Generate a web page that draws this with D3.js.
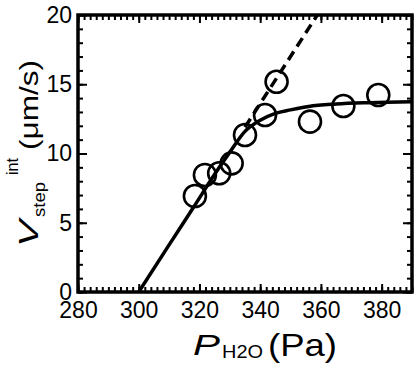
<!DOCTYPE html>
<html><head><meta charset="utf-8">
<script src="https://cdn.jsdelivr.net/npm/d3@7"></script>
<style>body{margin:0;background:#fff} svg{display:block}</style>
</head><body><svg id="c" width="420" height="366"></svg>
<script>
const xTicks=[280,300,320,340,360,380];
const yTicks=[0,5,10,15,20];
const pressure=[318.5,321.8,326.5,330.6,335.0,341.6,345.4,356.4,367.4,378.9];
const velocity=[6.93,8.45,8.57,9.29,11.34,12.78,15.18,12.3,13.43,14.22];
const fitP=[300,310,318,325,330,335,340,345,350,356,365,376,390];
const fitV=[0,3.4,6.1,8.5,10.1,11.6,12.4,12.9,13.15,13.4,13.57,13.67,13.74];
const linP=[335,358.8];
const linV=[11.9,20];

const FONT='"Liberation Sans", Arial, Helvetica, sans-serif';
const svg=d3.select('#c');
const L=78,R=412,T=15,B=292;
const x=d3.scaleLinear().domain([280,390]).range([L,R]);
const y=d3.scaleLinear().domain([0,20]).range([B,T]);

svg.append('defs').append('clipPath').attr('id','clip')
  .append('rect').attr('x',L).attr('y',T).attr('width',R-L).attr('height',B-T);

const xMinor=d3.range(280,391,2), yMinor=d3.range(0,21,1);
function styleAxis(g){g.select('.domain').remove();g.selectAll('.tick line').attr('stroke','#000').attr('stroke-width',2);}
// minor ticks
svg.append('g').attr('transform',`translate(0,${B})`).call(d3.axisBottom(x).tickValues(xMinor).tickSize(-5).tickFormat('')).call(styleAxis);
svg.append('g').attr('transform',`translate(0,${T})`).call(d3.axisTop(x).tickValues(xMinor).tickSize(-5).tickFormat('')).call(styleAxis);
svg.append('g').attr('transform',`translate(${L},0)`).call(d3.axisLeft(y).tickValues(yMinor).tickSize(-5).tickFormat('')).call(styleAxis);
svg.append('g').attr('transform',`translate(${R},0)`).call(d3.axisRight(y).tickValues(yMinor).tickSize(-5).tickFormat('')).call(styleAxis);
// major ticks
const gx=svg.append('g').attr('transform',`translate(0,${B})`).call(d3.axisBottom(x).tickValues(xTicks).tickSize(-8).tickPadding(10).tickFormat(d3.format('d'))).call(styleAxis);
svg.append('g').attr('transform',`translate(0,${T})`).call(d3.axisTop(x).tickValues(xTicks).tickSize(-8).tickFormat('')).call(styleAxis);
const gy=svg.append('g').attr('transform',`translate(${L},0)`).call(d3.axisLeft(y).tickValues(yTicks).tickSize(-9).tickPadding(6).tickFormat(d3.format('d'))).call(styleAxis);
svg.append('g').attr('transform',`translate(${R},0)`).call(d3.axisRight(y).tickValues(yTicks).tickSize(-9).tickFormat('')).call(styleAxis);
[gx,gy].forEach(g=>g.selectAll('text').attr('font-family',FONT).attr('font-size',23).attr('fill','#000'));

// frame
svg.append('rect').attr('x',L).attr('y',T).attr('width',R-L).attr('height',B-T)
  .attr('fill','none').attr('stroke','#000').attr('stroke-width',3.5);

const plot=svg.append('g').attr('clip-path','url(#clip)');
const line=d3.line().x(d=>x(d[0])).y(d=>y(d[1]));
plot.append('path').datum(fitP.map((p,i)=>[p,fitV[i]]))
  .attr('d',line.curve(d3.curveMonotoneX)).attr('fill','none').attr('stroke','#000').attr('stroke-width',3.5);
plot.append('path').datum(linP.map((p,i)=>[p,linV[i]]))
  .attr('d',d3.line().x(d=>x(d[0])).y(d=>y(d[1]))).attr('fill','none').attr('stroke','#000')
  .attr('stroke-width',3.5).attr('stroke-dasharray','10,6');
svg.append('g').selectAll('circle').data(pressure.map((p,i)=>[p,velocity[i]])).join('circle')
  .attr('cx',d=>x(d[0])).attr('cy',d=>y(d[1])).attr('r',11)
  .attr('fill','none').attr('stroke','#000').attr('stroke-width',2.6);

// titles
function piece(g,str,xx,yy,size,len,italic){
  const t=g.append('text').attr('x',xx).attr('y',yy).attr('font-family',FONT).attr('font-size',size)
    .attr('fill','#000').attr('textLength',len).attr('lengthAdjust','spacingAndGlyphs').text(str);
  if(italic) t.attr('font-style','italic');
  return t;
}
const xt=svg.append('g');
piece(xt,'P',193,355,30,27,true);
piece(xt,'H2O',222,358,18,41,false);
piece(xt,'(Pa)',268,356,32,69,false);
const yt=svg.append('g').attr('transform','rotate(-90)');
piece(yt,'V',-247,38,28,27,true);
piece(yt,'step',-217,45,17,35,false);
piece(yt,'int',-175,18,16,17,false);
piece(yt,'(\u03bcm/s)',-150,38,25,90,false);
</script></body></html>
